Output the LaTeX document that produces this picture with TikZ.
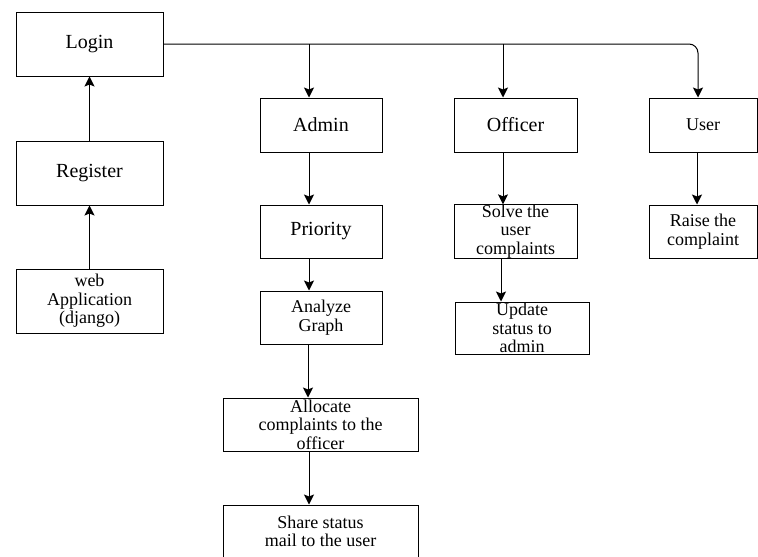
\documentclass[tikz,border=0pt]{standalone}
\usepackage{fontspec}
\setmainfont{Liberation Serif}
\usetikzlibrary{arrows.meta}

\begin{document}
\begin{tikzpicture}[x=1pt, y=-1pt,
  box/.style={draw, line width=1pt, inner sep=0pt, align=center,
    font=\fontsize{18}{18.5}\selectfont},
  bigbox/.style={box, font=\fontsize{20}{21}\selectfont},
  arr/.style={line width=1pt, -{Stealth[length=10pt, width=10pt, inset=2pt]}}]
\useasboundingbox (0,0) rectangle (758,557);
\clip (0,0) rectangle (758,557);
% Left column
\node[bigbox, minimum width=147pt, minimum height=64pt] (login) at (89.5,44) {Login};
\node[bigbox, minimum width=147pt, minimum height=64pt] (register) at (89.5,173) {Register};
\node[box, minimum width=147pt, minimum height=64pt] (web) at (89.5,301) {web\\Application\\(django)};
\draw[arr] (web) -- (register);
\draw[arr] (register) -- (login);
% Admin branch
\node[bigbox, minimum width=122pt, minimum height=54pt] (admin) at (321,125) {Admin};
\node[bigbox, minimum width=122pt, minimum height=53pt] (prio) at (321,231.5) {Priority};
\node[box, minimum width=122pt, minimum height=53pt] (analyze) at (321,317.5) {Analyze\\Graph};
\node[box, minimum width=195pt, minimum height=53pt] (allocate) at (320.5,424.5) {Allocate\\complaints to the\\officer};
\node[box, minimum width=195pt, minimum height=53pt] (share) at (320.5,531.5) {Share status\\mail to the user};
% Officer branch
\node[bigbox, minimum width=123pt, minimum height=54pt] (officer) at (515.5,125) {Officer};
\node[box, minimum width=123pt, minimum height=53pt] (solve) at (515.5,231.5) {Solve the\\user\\complaints};
\node[box, minimum width=134pt, minimum height=52pt] (update) at (522,328) {Update\\status to\\admin};
% User branch
\node[box, minimum width=108pt, minimum height=54pt] (user) at (703,125) {User};
\node[box, minimum width=108pt, minimum height=53pt] (raise) at (703,231.5) {Raise the\\complaint};
% Login fans out to the three roles
\coordinate (adminin) at ([xshift=-12pt]admin.north);
\coordinate (officerin) at ([xshift=-12.5pt]officer.north);
\coordinate (userin) at ([xshift=-5pt]user.north);
\draw[arr, rounded corners=9pt] (login.east) -| (userin);
\draw[arr] (adminin |- login.east) -- (adminin);
\draw[arr] (officerin |- login.east) -- (officerin);
% Steps down each branch
\draw[arr] ([xshift=-12pt]admin.south) -- ([xshift=-12pt]prio.north);
\draw[arr] ([xshift=-12pt]prio.south) -- ([xshift=-12pt]analyze.north);
\draw[arr] ([xshift=-13pt]analyze.south) -- ([xshift=-12.5pt]allocate.north);
\draw[arr] ([xshift=-11.5pt]allocate.south) -- ([xshift=-11.5pt]share.north);
\draw[arr] ([xshift=-12.5pt]officer.south) -- ([xshift=-12.5pt]solve.north);
\draw[arr] ([xshift=-14.5pt]solve.south) -- ([xshift=-21pt]update.north);
\draw[arr] ([xshift=-6pt]user.south) -- ([xshift=-6pt]raise.north);
\end{tikzpicture}
\end{document}
